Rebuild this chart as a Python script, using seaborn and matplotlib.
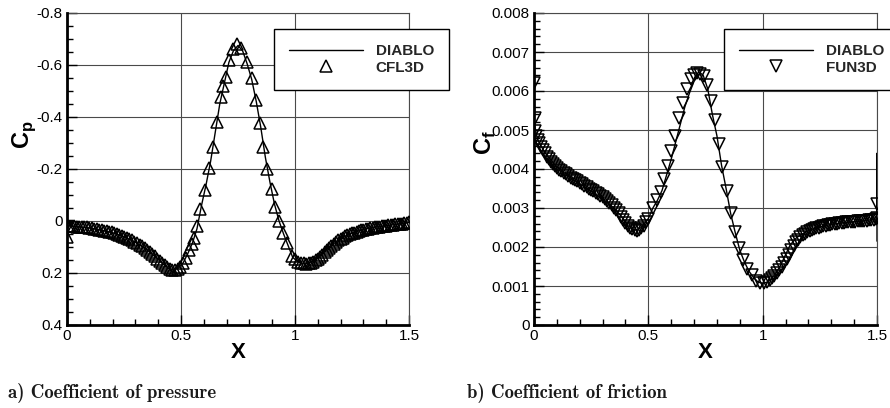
import numpy as np
import pandas as pd
import matplotlib
matplotlib.use("Agg")
import matplotlib.pyplot as plt
import seaborn as sns
from matplotlib.ticker import MultipleLocator, FixedLocator, FixedFormatter

# ---------------- data ----------------
x_diablo_cp = [0.0, 0.02, 0.05, 0.1, 0.15, 0.2, 0.25, 0.3, 0.35, 0.4, 0.43, 0.45, 0.47, 0.49,
               0.51, 0.53, 0.55, 0.57, 0.59, 0.61, 0.63, 0.65, 0.67, 0.69, 0.71, 0.73, 0.75,
               0.77, 0.79, 0.81, 0.83, 0.85, 0.87, 0.89, 0.91, 0.93, 0.95, 0.97, 0.99, 1.01,
               1.03, 1.05, 1.07, 1.09, 1.11, 1.13, 1.15, 1.2, 1.25, 1.3, 1.35, 1.4, 1.45, 1.5]
cp_diablo = [0.018, 0.02, 0.022, 0.027, 0.035, 0.045, 0.06, 0.082, 0.11, 0.148, 0.172, 0.185,
             0.188, 0.18, 0.16, 0.125, 0.085, 0.03, -0.06, -0.14, -0.23, -0.34, -0.45, -0.53,
             -0.61, -0.655, -0.675, -0.655, -0.605, -0.545, -0.46, -0.36, -0.245, -0.15, -0.065,
             0.0, 0.05, 0.095, 0.14, 0.155, 0.162, 0.163, 0.158, 0.148, 0.135, 0.118, 0.1,
             0.068, 0.047, 0.032, 0.024, 0.018, 0.012, 0.006]

x_cfl3d = [0.0, 0.004, 0.012, 0.022, 0.032, 0.043, 0.054, 0.065, 0.076, 0.087, 0.098, 0.109,
           0.12, 0.131, 0.142, 0.153, 0.164, 0.175, 0.186, 0.197, 0.208, 0.219, 0.23, 0.241,
           0.252, 0.263, 0.274, 0.285, 0.296, 0.307, 0.318, 0.329, 0.34, 0.351, 0.362, 0.373,
           0.384, 0.395, 0.406, 0.417, 0.428, 0.439, 0.45, 0.46, 0.473, 0.485, 0.497,
           0.51, 0.523, 0.537, 0.548, 0.559, 0.572, 0.584, 0.606, 0.625, 0.642, 0.657, 0.674,
           0.686, 0.698, 0.712, 0.73, 0.747, 0.765, 0.788, 0.81, 0.829, 0.847, 0.861, 0.876,
           0.898, 0.912, 0.931, 0.949, 0.964, 0.985, 1.0, 1.015, 1.028,
           1.04, 1.05, 1.06, 1.07, 1.08, 1.09, 1.1, 1.11, 1.12, 1.13, 1.14, 1.15, 1.16, 1.17,
           1.18, 1.19, 1.2, 1.21, 1.22, 1.23, 1.24, 1.25, 1.26, 1.27, 1.28, 1.29, 1.3, 1.31,
           1.32, 1.33, 1.34, 1.35, 1.36, 1.37, 1.38, 1.39, 1.4, 1.41, 1.42, 1.43, 1.44, 1.45,
           1.46, 1.47, 1.48, 1.49, 1.5]
cp_cfl3d = [0.06, 0.02, 0.02, 0.021, 0.021, 0.022, 0.022, 0.023, 0.024, 0.025, 0.027, 0.028,
            0.03, 0.031, 0.033, 0.035, 0.037, 0.04, 0.042, 0.044, 0.047, 0.05, 0.053, 0.057,
            0.061, 0.065, 0.07, 0.075, 0.08, 0.086, 0.092, 0.098, 0.104, 0.111, 0.119, 0.127,
            0.136, 0.145, 0.153, 0.162, 0.17, 0.178, 0.184, 0.188, 0.188, 0.184, 0.175,
            0.16, 0.143, 0.11, 0.09, 0.065, 0.02, -0.045, -0.119, -0.202, -0.285, -0.38, -0.478,
            -0.52, -0.555, -0.62, -0.66, -0.68, -0.665, -0.61, -0.55, -0.465, -0.375, -0.285, -0.2,
            -0.123, -0.055, 0.0, 0.047, 0.086, 0.134, 0.148, 0.156, 0.161,
            0.163, 0.164, 0.163, 0.16, 0.156, 0.151, 0.145, 0.138, 0.13, 0.121, 0.112, 0.103,
            0.095, 0.088, 0.081, 0.075, 0.069, 0.064, 0.059, 0.055, 0.051, 0.048, 0.045, 0.042,
            0.039, 0.036, 0.034, 0.032, 0.03, 0.028, 0.026, 0.024, 0.023, 0.022, 0.02, 0.019,
            0.018, 0.017, 0.016, 0.015, 0.013, 0.012, 0.011, 0.01, 0.008, 0.007, 0.005]

x_diablo_cf = [0.0, 0.0, 0.01, 0.02, 0.05, 0.1, 0.15, 0.2, 0.25, 0.3, 0.35, 0.38, 0.41, 0.44,
               0.47, 0.5, 0.52, 0.54, 0.56, 0.58, 0.6, 0.62, 0.64, 0.66, 0.68, 0.7, 0.72, 0.73,
               0.74, 0.76, 0.78, 0.8, 0.82, 0.84, 0.86, 0.88, 0.9, 0.92, 0.94, 0.96, 0.98, 1.0,
               1.02, 1.04, 1.06, 1.08, 1.1, 1.12, 1.15, 1.2, 1.25, 1.3, 1.35, 1.4, 1.45, 1.5,
               1.5, 1.5]
cf_diablo = [0.0066, 0.0052, 0.0049, 0.0047, 0.0044, 0.00405, 0.00382, 0.00362, 0.00343,
             0.00323, 0.0030, 0.0028, 0.00255, 0.00243, 0.0025, 0.00273, 0.0030, 0.0032,
             0.00345, 0.00385, 0.00425, 0.0047, 0.00515, 0.0056, 0.00595, 0.00625, 0.00642,
             0.00645, 0.0064, 0.00605, 0.0054, 0.00485, 0.0041, 0.0035, 0.00286, 0.00237,
             0.00192, 0.00162, 0.00138, 0.00122, 0.0011, 0.00107, 0.0011, 0.0012, 0.00135,
             0.00155, 0.0018, 0.00205, 0.00225, 0.00242, 0.00252, 0.00258, 0.00262, 0.00265,
             0.00268, 0.00272, 0.0044, 0.00215]

x_fun3d = [0.0, 0.003, 0.006, 0.01, 0.016, 0.022, 0.03, 0.038, 0.046, 0.055, 0.064, 0.073,
           0.082, 0.091, 0.1, 0.11, 0.12, 0.13, 0.14, 0.15, 0.16, 0.17, 0.18, 0.19, 0.2, 0.21,
           0.22, 0.23, 0.24, 0.25, 0.26, 0.27, 0.28, 0.29, 0.3, 0.31, 0.32, 0.33, 0.34, 0.35,
           0.36, 0.37, 0.38, 0.39, 0.4, 0.41, 0.42, 0.43, 0.44, 0.45, 0.46, 0.47, 0.48, 0.49,
           0.5, 0.52, 0.54, 0.555, 0.57, 0.585, 0.6, 0.615, 0.632, 0.65, 0.668, 0.685, 0.7,
           0.714, 0.728, 0.742, 0.756, 0.772, 0.79, 0.808, 0.823, 0.843, 0.861, 0.879, 0.896,
           0.914, 0.933, 0.952, 0.972, 0.99, 1.005, 1.018, 1.03, 1.04, 1.05, 1.062, 1.073,
           1.084, 1.095, 1.105, 1.115, 1.125, 1.135, 1.145, 1.155, 1.165, 1.175, 1.185, 1.195,
           1.205, 1.215, 1.225, 1.235, 1.245, 1.255, 1.265, 1.275, 1.285, 1.295, 1.305, 1.315,
           1.325, 1.335, 1.345, 1.355, 1.365, 1.375, 1.385, 1.395, 1.405, 1.415, 1.425, 1.435,
           1.445, 1.455, 1.465, 1.475, 1.485, 1.495, 1.5, 1.5]
cf_fun3d = [0.0062, 0.0053, 0.00498, 0.00485, 0.00475, 0.00466, 0.00457, 0.00448, 0.0044,
            0.00432, 0.00425, 0.00419, 0.00413, 0.00408, 0.00403, 0.00398, 0.00394, 0.0039,
            0.00386, 0.00382, 0.00378, 0.00375, 0.00371, 0.00368, 0.00364, 0.00361, 0.00357,
            0.00354, 0.0035, 0.00346, 0.00343, 0.00339, 0.00335, 0.00331, 0.00327, 0.00322,
            0.00317, 0.00312, 0.00307, 0.00301, 0.00294, 0.00286, 0.00278, 0.0027, 0.00262,
            0.00255, 0.00249, 0.00245, 0.00243, 0.00242, 0.00244, 0.00248, 0.00255, 0.00263,
            0.00273, 0.0030, 0.0032, 0.00342, 0.00375, 0.00408, 0.00445, 0.00485, 0.0053,
            0.0057, 0.00605, 0.0063, 0.00642, 0.00645, 0.00644, 0.00638, 0.00615, 0.00575,
            0.00525, 0.00465, 0.00406, 0.00344, 0.00288, 0.00239, 0.00198, 0.00167, 0.00144,
            0.00128, 0.00112, 0.00108, 0.00108, 0.00111, 0.00116, 0.0012, 0.00126, 0.00133,
            0.00141, 0.00149, 0.0016, 0.0017, 0.0018, 0.00192, 0.00203, 0.00212, 0.00219,
            0.00225, 0.0023, 0.00234, 0.00238, 0.00241, 0.00244, 0.00246, 0.00248, 0.0025,
            0.00252, 0.00253, 0.00255, 0.00256, 0.00257, 0.00258, 0.00259, 0.0026, 0.00261,
            0.002615, 0.00262, 0.00263, 0.002635, 0.00264, 0.002645, 0.00265, 0.002655,
            0.00266, 0.002665, 0.00267, 0.002675, 0.00268, 0.00269, 0.0027, 0.00272, 0.00275,
            0.0031]

cp_yticks = [-0.8, -0.6, -0.4, -0.2, 0.0, 0.2, 0.4]
cp_ylabels = ["-0.8", "-0.6", "-0.4", "-0.2", "0", "0.2", "0.4"]
cf_yticks = [0.0, 0.001, 0.002, 0.003, 0.004, 0.005, 0.006, 0.007, 0.008]
cf_ylabels = ["0", "0.001", "0.002", "0.003", "0.004", "0.005", "0.006", "0.007", "0.008"]
x_ticks = [0.0, 0.5, 1.0, 1.5]
x_labels = ["0", "0.5", "1", "1.5"]

# ---------------- style ----------------
sns.set_theme(style="white")
plt.rcParams["font.family"] = ["Liberation Sans", "DejaVu Sans"]
plt.rcParams["axes.unicode_minus"] = False
plt.rcParams["mathtext.fontset"] = "custom"
plt.rcParams["mathtext.rm"] = "Liberation Sans"
plt.rcParams["mathtext.bf"] = "Liberation Sans:bold"

W, H = 890, 408
fig = plt.figure(figsize=(W / 100, H / 100), dpi=100)
fig.patch.set_facecolor("white")
ax1 = fig.add_axes([67 / W, 1 - 325 / H, 342 / W, 312 / H])
ax2 = fig.add_axes([534 / W, 1 - 325 / H, 343 / W, 312 / H])

grid_c = "#4a4a4a"


def style_axes(ax, yticks, ylabels, yminor):
    ax.set_facecolor("white")
    ax.set_xlim(0, 1.5)
    ax.xaxis.set_major_locator(FixedLocator(x_ticks))
    ax.xaxis.set_major_formatter(FixedFormatter(x_labels))
    ax.xaxis.set_minor_locator(MultipleLocator(0.1))
    ax.yaxis.set_major_locator(FixedLocator(yticks))
    ax.yaxis.set_major_formatter(FixedFormatter(ylabels))
    ax.yaxis.set_minor_locator(MultipleLocator(yminor))
    ax.grid(True, which="major", color=grid_c, lw=0.8)
    ax.set_axisbelow(True)
    for s in ["top", "right"]:
        ax.spines[s].set_color(grid_c)
        ax.spines[s].set_linewidth(0.8)
    for s in ["left", "bottom"]:
        ax.spines[s].set_color("black")
        ax.spines[s].set_linewidth(2.0)
        ax.spines[s].set_zorder(5)
    ax.tick_params(which="both", direction="in", left=True, bottom=True, top=False,
                   right=False, color="black", labelsize=11, labelcolor="black")
    ax.tick_params(which="major", length=7, width=1.0, pad=3)
    ax.tick_params(which="minor", length=4, width=1.0)


def draw(ax, xl, yl, xm, ym, mk, name_m):
    sns.lineplot(x=xl, y=yl, sort=False, estimator=None, color="black", lw=1.0,
                 ax=ax, label="DIABLO", zorder=3)
    sns.lineplot(x=xm, y=ym, sort=False, estimator=None, color="black", linestyle="",
                 marker=mk, markersize=8.2, markerfacecolor="none", markeredgecolor="black",
                 markeredgewidth=1.1, ax=ax, label=name_m, zorder=4)
    h, l = ax.get_legend_handles_labels()
    return h, l


h1, l1 = draw(ax1, x_diablo_cp, cp_diablo, x_cfl3d, cp_cfl3d, "^", "CFL3D")
h2, l2 = draw(ax2, x_diablo_cf, cf_diablo, x_fun3d, cf_fun3d, "v", "FUN3D")

style_axes(ax1, cp_yticks, cp_ylabels, 0.05)
ax1.set_ylim(0.4, -0.8)
style_axes(ax2, cf_yticks, cf_ylabels, 0.0002)
ax2.set_ylim(0, 0.008)

# axis labels
for ax, lab, lx, ly in [(ax1, r"$\mathbf{C}_{\mathbf{p}}$", -0.085, 0.61),
                        (ax2, r"$\mathbf{C}_{\mathbf{f}}$", -0.105, 0.585)]:
    ax.set_ylabel(lab, fontsize=17, color="black")
    ax.yaxis.set_label_coords(lx, ly)
    ax.set_xlabel("X", fontsize=16, fontweight="bold", color="black", va="top")
    ax.xaxis.set_label_coords(0.5, -0.055)

# legends
for ax, h, l, x0 in [(ax1, h1, l1, 274), (ax2, h2, l2, 724)]:
    leg = ax.legend(h, l, loc="upper left", bbox_to_anchor=(x0 / W, 1 - 29 / H),
                    bbox_transform=fig.transFigure, frameon=True, fancybox=False,
                    framealpha=1, edgecolor="black", borderpad=1.0, handlelength=4.8,
                    handletextpad=0.85, labelspacing=0.15, borderaxespad=0,
                    prop={"weight": "bold", "size": 11})
    leg.get_frame().set_linewidth(1.0)
    leg.set_zorder(10)

# captions
fig.text(8 / W, 1 - 393 / H, "a) Coefficient of pressure", fontfamily="cmb10",
         fontsize=13.5, va="center", ha="left", color="#1a1a1a")
fig.text(467 / W, 1 - 393 / H, "b) Coefficient of friction", fontfamily="cmb10",
         fontsize=13.5, va="center", ha="left", color="#1a1a1a")

fig.savefig("out.png", dpi=100, facecolor="white")
